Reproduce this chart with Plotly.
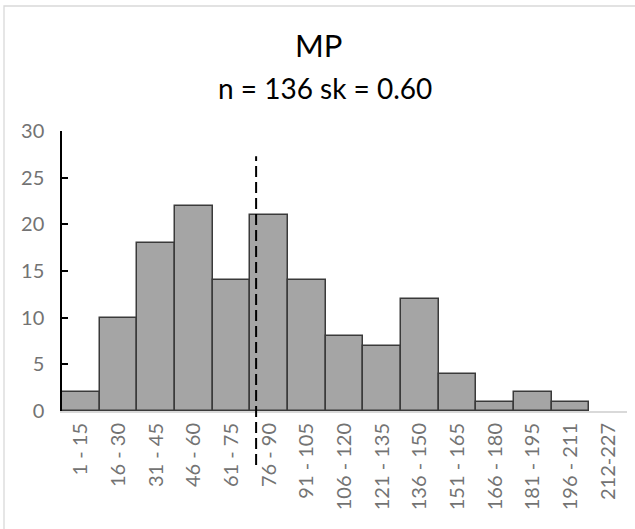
import plotly.graph_objects as go

# ---- data ----
bin_labels = ["1 - 15", "16 - 30", "31 - 45", "46 - 60", "61 - 75", "76 - 90",
              "91 - 105", "106 - 120", "121 - 135", "136 - 150", "151 - 165",
              "166 - 180", "181 - 195", "196 - 211", "212-227"]
counts = [2, 10, 18, 22, 14, 21, 14, 8, 7, 12, 4, 1, 2, 1, 0]
ref_value = 77.8          # central value marked by the dashed line
bin_width = 15
first_bin_start = 1
title_text = "MP"
subtitle_text = "n = 136 sk = 0.60"

# ---- figure ----
W, H = 635, 529
ml, mr, mt, mb = 62, 8, 131, 118
pw, ph = W - ml - mr, H - mt - mb

def px_x(px):
    return (px - ml) / pw

def px_y(py):
    return (H - mb - py) / ph

FONT = "Lato"
GRAY = "#737373"

fig = go.Figure(go.Bar(
    x=bin_labels, y=counts,
    marker=dict(color="#a5a5a5",
                line=dict(color="#3a3a3a",
                          width=[1.5 if c > 0 else 0 for c in counts])),
    hoverinfo="skip",
))

# dashed reference line, positioned on the category axis
ref_pos = (ref_value - (first_bin_start - 0.5)) / bin_width - 0.5
y_max = 30
fig.add_shape(type="line", xref="x", yref="paper",
              x0=ref_pos, x1=ref_pos, y0=px_y(465), y1=27.3 / y_max,
              line=dict(color="black", width=2, dash="11px,5px"))

# chart border (light gray frame)
fig.add_shape(type="rect", xref="paper", yref="paper",
              x0=px_x(4), x1=px_x(700), y0=px_y(600), y1=px_y(6),
              line=dict(color="#d9d9d9", width=1.3), fillcolor="rgba(0,0,0,0)",
              layer="below")

fig.add_annotation(text=title_text, xref="paper", yref="paper",
                   x=px_x(318), y=px_y(45), showarrow=False,
                   xanchor="center", yanchor="middle",
                   font=dict(family=FONT, size=31, color="black"))
fig.add_annotation(text=subtitle_text, xref="paper", yref="paper",
                   x=px_x(325), y=px_y(88), showarrow=False,
                   xanchor="center", yanchor="middle",
                   font=dict(family=FONT, size=28, color="black"))

fig.update_layout(
    width=W, height=H,
    margin=dict(l=ml, r=mr, t=mt, b=mb, pad=0, autoexpand=False),
    paper_bgcolor="white", plot_bgcolor="white",
    bargap=0, showlegend=False,
    font=dict(family=FONT, color=GRAY),
)
fig.update_xaxes(
    type="category", range=[-0.5, len(bin_labels) - 0.5], automargin=False,
    showline=True, linecolor="#d9d9d9", linewidth=2,
    ticks="", tickangle=-90, tickfont=dict(size=20, color=GRAY, family=FONT),
    showgrid=False, zeroline=False, ticklabelstandoff=2,
)
fig.update_yaxes(
    range=[0, y_max], dtick=5, tick0=0, automargin=False,
    showline=True, linecolor="black", linewidth=1.5,
    ticks="inside", ticklen=6, tickwidth=1.5, tickcolor="black",
    tickfont=dict(size=20, color=GRAY, family=FONT),
    showgrid=False, zeroline=False, ticklabelstandoff=12,
)

fig.write_html("out.html", config={"displayModeBar": False},
               post_script="document.body.style.margin='0';document.body.style.overflow='hidden';")
